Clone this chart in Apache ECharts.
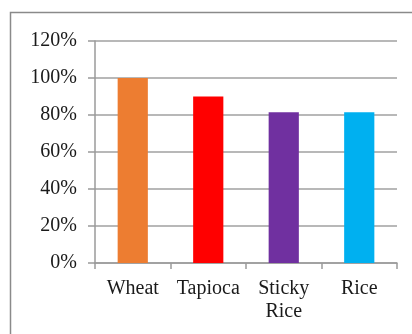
<!DOCTYPE html>
<html>
<head>
<meta charset="utf-8">
<script src="https://cdn.jsdelivr.net/npm/echarts@6/dist/echarts.min.js"></script>
<style>
  html, body { margin: 0; padding: 0; background: #fff; }
  #chart { width: 412px; height: 334px; }
</style>
</head>
<body>
<div id="chart"></div>
<script>
var categories = ['Wheat', 'Tapioca', 'Sticky\nRice', 'Rice'];
var values = [100, 90, 81.5, 81.5];   // percent
var barColors = ['#ED7D31', '#FF0000', '#7030A0', '#00B0F0'];

var chart = echarts.init(document.getElementById('chart'));
var font = 'Liberation Serif, Times New Roman, serif';

option = {
    animation: false,
    graphic: [{
        type: 'rect',
        shape: { x: 10.5, y: 12.5, width: 420, height: 340 },
        style: { fill: 'none', stroke: '#8a8a8a', lineWidth: 1.5 }
    }],
    grid: { left: 95, right: 15, top: 41, bottom: 71 },
    xAxis: {
        type: 'category',
        data: categories,
        boundaryGap: true,
        axisLine: { lineStyle: { color: '#9a9a9a', width: 1.5 } },
        axisTick: { show: true, length: 6, lineStyle: { color: '#9a9a9a', width: 1.5 } },
        axisLabel: {
            color: '#1a1a1a', fontFamily: font, fontSize: 20,
            margin: 14, lineHeight: 23, interval: 0
        }
    },
    yAxis: {
        type: 'value',
        min: 0, max: 120, interval: 20,
        axisLine: { show: true, lineStyle: { color: '#9a9a9a', width: 1.5 } },
        axisTick: { show: true, length: 7, lineStyle: { color: '#9a9a9a', width: 1.5 } },
        splitLine: { lineStyle: { color: '#a0a0a0', width: 1.5 } },
        axisLabel: {
            color: '#1a1a1a', fontFamily: font, fontSize: 20, margin: 18,
            formatter: function (v) { return v + '%'; }
        }
    },
    series: [{
        type: 'bar',
        barWidth: '40%',
        data: values.map(function (v, i) {
            return { value: v, itemStyle: { color: barColors[i] } };
        })
    }]
};

chart.setOption(option);
</script>
</body>
</html>
